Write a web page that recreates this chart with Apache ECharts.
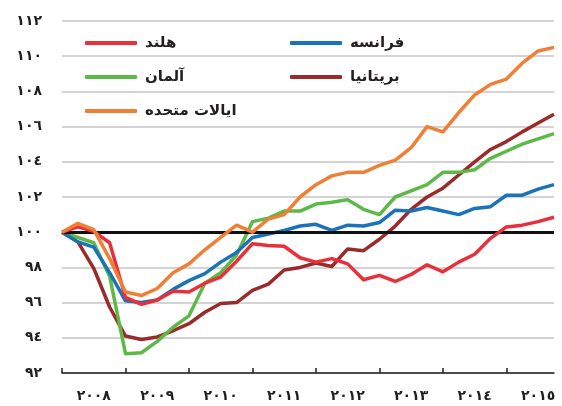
<!DOCTYPE html>
<html>
<head>
<meta charset="utf-8">
<script src="https://cdn.jsdelivr.net/npm/echarts@6/dist/echarts.min.js"></script>
<style>
  html, body { margin: 0; padding: 0; background: #fff; }
  #chart { width: 562px; height: 406px; }
</style>
</head>
<body>
<div id="chart"></div>
<script>
// quarterly index, 2008 Q1 = 100
const years = [2008, 2009, 2010, 2011, 2012, 2013, 2014, 2015]
const quarters = []
years.forEach(y => [1, 2, 3, 4].forEach(q => quarters.push(y + 'Q' + q)))

const yearLabels = ['٢٠٠٨', '٢٠٠٩', '٢٠١٠', '٢٠١١', '٢٠١٢', '٢٠١٣', '٢٠١٤', '٢٠١٥']
const yTickLabels = {92: '٩٢', 94: '٩٤', 96: '٩٦', 98: '٩٨', 100: '١٠٠', 102: '١٠٢', 104: '١٠٤', 106: '١٠٦', 108: '١٠٨', 110: '١١٠', 112: '١١٢'}

const names = {
  netherlands: 'هلند',
  france: 'فرانسه',
  germany: 'آلمان',
  britain: 'بریتانیا',
  usa: 'ایالات متحده',
}

const netherlands = [100, 100.3, 100.05, 99.4, 96.3, 95.9, 96.15, 96.65, 96.6, 97.1, 97.45, 98.35, 99.35, 99.25, 99.2, 98.55,
  98.3, 98.5, 98.2, 97.3, 97.55, 97.2, 97.6, 98.15, 97.75, 98.3, 98.75, 99.65, 100.3, 100.4, 100.6, 100.85]
const france = [100, 99.45, 99.15, 97.7, 96.1, 96.0, 96.15, 96.75, 97.25, 97.65, 98.3, 98.85, 99.7, 99.9, 100.1, 100.35,
  100.45, 100.1, 100.4, 100.35, 100.55, 101.25, 101.2, 101.4, 101.2, 101.0, 101.35, 101.45, 102.1, 102.1, 102.45, 102.7]
const germany = [100, 99.7, 99.4, 97.5, 93.1, 93.15, 93.8, 94.6, 95.25, 97.1, 97.7, 98.7, 100.6, 100.8, 101.2, 101.2,
  101.6, 101.7, 101.85, 101.3, 101.0, 102.0, 102.35, 102.7, 103.4, 103.4, 103.55, 104.2, 104.6, 105.0, 105.3, 105.6]
const britain = [100, 99.45, 97.95, 95.75, 94.1, 93.9, 94.05, 94.4, 94.8, 95.45, 95.95, 96.0, 96.7, 97.05, 97.85, 98.0,
  98.25, 98.05, 99.05, 98.95, 99.6, 100.35, 101.3, 102.0, 102.5, 103.25, 104.0, 104.7, 105.15, 105.7, 106.2, 106.7]
const usa = [100, 100.5, 100.15, 98.5, 96.6, 96.4, 96.8, 97.7, 98.2, 99.0, 99.7, 100.4, 100.0, 100.75, 101.0, 102.0,
  102.7, 103.2, 103.4, 103.4, 103.8, 104.1, 104.8, 106.0, 105.7, 106.8, 107.8, 108.4, 108.7, 109.6, 110.3, 110.5]

const font = 'DejaVu Sans'
const textColor = '#231f20'

function lineSeries(name, data, color, z) {
  return {
    name: name,
    type: 'line',
    data: data,
    symbol: 'none',
    z: z,
    lineStyle: {color: color, width: 3.5, join: 'round'},
    itemStyle: {color: color},
  }
}

const legendBase = {
  orient: 'vertical',
  top: 28,
  icon: 'roundRect',
  itemWidth: 52,
  itemHeight: 4,
  itemGap: 14,
  selectedMode: false,
  textStyle: {fontFamily: font, fontSize: 15, fontWeight: 'bold', color: textColor, lineHeight: 20, padding: [0, 0, 0, 3]},
}

const chart = echarts.init(document.getElementById('chart'))
chart.setOption({
  animation: false,
  grid: {left: 62, right: 8, top: 21, bottom: 33},
  legend: [
    Object.assign({left: 80, data: [names.netherlands, names.germany, names.usa]}, legendBase),
    Object.assign({left: 285, data: [names.france, names.britain]}, legendBase),
  ],
  xAxis: {
    type: 'category',
    data: quarters,
    boundaryGap: false,
    axisLine: {lineStyle: {color: textColor, width: 1.5}},
    axisTick: {inside: true, length: 5, lineStyle: {color: textColor, width: 1.5}, interval: (i) => i % 4 === 0},
    axisLabel: {
      interval: (i) => i % 4 === 2,
      formatter: (v) => yearLabels[years.indexOf(parseInt(v))],
      fontFamily: font, fontSize: 14, fontWeight: 'bold', color: textColor, margin: 16,
    },
    splitLine: {show: false},
  },
  yAxis: {
    type: 'value',
    min: 92,
    max: 112,
    interval: 2,
    axisLine: {show: false},
    axisTick: {show: false},
    axisLabel: {
      formatter: (v) => yTickLabels[v],
      fontFamily: font, fontSize: 14, fontWeight: 'bold', color: textColor, margin: 20,
    },
    splitLine: {lineStyle: {color: '#d3d3d3', width: 2}},
  },
  series: [
    Object.assign(lineSeries(names.britain, britain, '#9b2a2a', 2), {
      markLine: {
        silent: true,
        symbol: 'none',
        label: {show: false},
        lineStyle: {color: '#111', width: 3, type: 'solid'},
        data: [{yAxis: 100}],
      },
    }),
    lineSeries(names.germany, germany, '#5db947', 3),
    lineSeries(names.france, france, '#1a72bb', 4),
    lineSeries(names.netherlands, netherlands, '#e8303a', 5),
    lineSeries(names.usa, usa, '#f07f35', 6),
  ],
})
</script>
</body>
</html>
